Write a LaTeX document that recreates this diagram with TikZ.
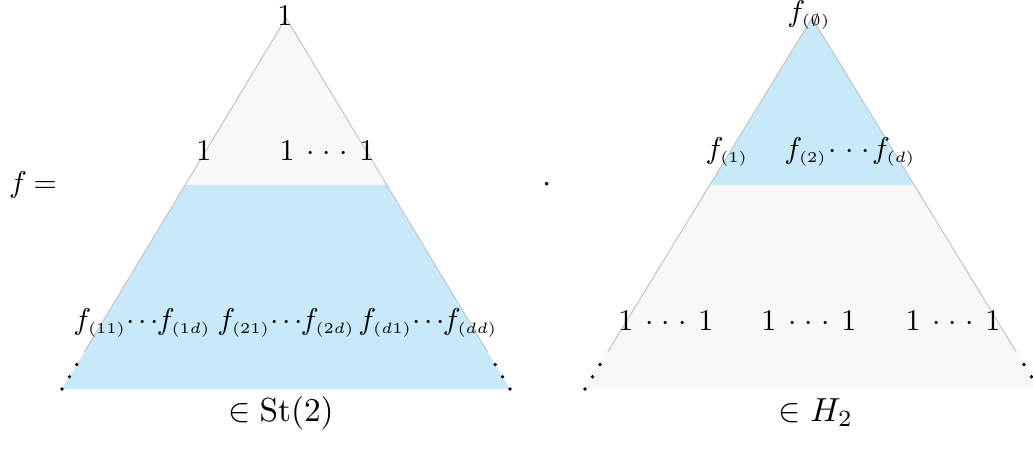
\documentclass[tikz,border=0pt]{standalone}
\usepackage{amssymb}
\usetikzlibrary{calc}
\definecolor{bandblue}{HTML}{C8E9FA}
\definecolor{bandgray}{HTML}{F8F8F8}
\definecolor{edgegray}{HTML}{C4C4C4}
\newcommand\mydots{\mathinner{\cdotp\mkern2mu\cdotp\mkern2mu\cdotp}}
\newcommand\oneones{1\mkern4mu\mydots\mkern4mu 1}
\newcommand\fs[1]{f_{\scriptscriptstyle(#1)}}
\newcommand\frow[2]{\fs{#1}\mkern-2mu\mydots\mkern-2mu\fs{#2}}
\newcommand\frowb[2]{\fs{#1}{\cdotp}\mkern2.2mu{\cdotp}\mkern2.2mu{\cdotp}\mkern-1mu\fs{#2}}
\begin{document}
\begin{tikzpicture}[x=0.3pt,y=-0.3pt,
  lbl/.style={inner sep=0pt,anchor=base},
  tlbl/.style={inner sep=0pt,anchor=base,scale=0.9},
  dotpt/.style={circle,fill=black,inner sep=0pt,minimum size=1.1pt},
  edge/.style={draw=edgegray,line width=0.3pt}]
\useasboundingbox (0,0) rectangle (1033,451);
\begin{scope}
\clip (0,0) rectangle (1033,451);
% left triangle
\coordinate (LA) at (286,18);
\coordinate (LB) at (62,389);
\coordinate (LC) at (510,389);
\fill[bandgray] (LA) -- ($(LA)!0.45!(LB)$) -- ($(LA)!0.45!(LC)$) -- cycle;
\fill[bandblue] ($(LA)!0.45!(LB)$) -- (LB) -- (LC) -- ($(LA)!0.45!(LC)$) -- cycle;
\draw[edge] ($(LA)!0.9!(LB)$) -- (LA) -- ($(LA)!0.9!(LC)$);
% right triangle
\coordinate (RA) at (812,18);
\coordinate (RB) at (585,389);
\coordinate (RC) at (1039,389);
\fill[bandblue] (RA) -- ($(RA)!0.45!(RB)$) -- ($(RA)!0.45!(RC)$) -- cycle;
\fill[bandgray] ($(RA)!0.45!(RB)$) -- (RB) -- (RC) -- ($(RA)!0.45!(RC)$) -- cycle;
\draw[edge] ($(RA)!0.9!(RB)$) -- (RA) -- ($(RA)!0.9!(RC)$);
% dots
\foreach \t [count=\i] in {0.934,0.967,1.0}{
  \node[dotpt] (ld\i) at ($(LA)!\t!(LB)$) {};
  \node[dotpt] (lr\i) at ($(LA)!\t!(LC)$) {};
  \node[dotpt] (rd\i) at ($(RA)!\t!(RB)$) {};
  \node[dotpt] (rr\i) at ($(RA)!\t!(RC)$) {};
}
\end{scope}
% left labels
\node[tlbl] (l0) at (285,25) {$1$};
\node[tlbl] (l1a) at (204,160) {$1$};
\node[tlbl] (l1b) at (327,160) {$\oneones$};
\node[tlbl] (l2a) at (142,329) {$\frowb{11}{1d}$};
\node[tlbl] (l2b) at (286,329) {$\frowb{21}{2d}$};
\node[tlbl] (l2c) at (428,329) {$\frowb{d1}{dd}$};
% right labels
\node[tlbl] (r0) at (809,21) {$\fs{\emptyset}$};
\node[tlbl] (r1a) at (727,158) {$\fs{1}$};
\node[tlbl] (r1b) at (850,158) {$\frow{2}{d}$};
\node[tlbl] (r2a) at (666,330) {$\oneones$};
\node[tlbl] (r2b) at (809,330) {$\oneones$};
\node[tlbl] (r2c) at (953,330) {$\oneones$};
% others
\node[tlbl] (feq) at (33,192) {$f\mkern4mu{=}$};
\node[lbl] (prod) at (547,192) {$\cdot$};
\node[lbl] (st) at (281,421) {$\in\mathrm{St}(2)$};
\node[lbl] (h2) at (816,421) {$\in H_2$};
\end{tikzpicture}
\end{document}
